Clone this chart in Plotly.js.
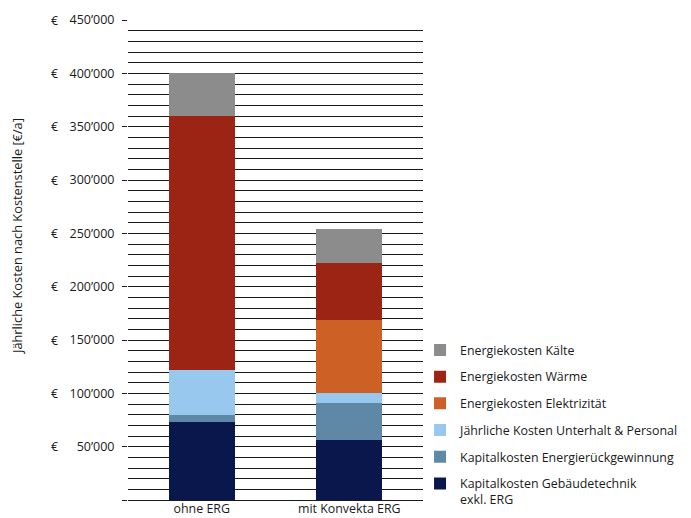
<!DOCTYPE html>
<html>
<head>
<meta charset="utf-8">
<script src="https://cdn.plot.ly/plotly-3.0.1.min.js"></script>
<style>
  html, body { margin: 0; padding: 0; background: #fff; }
  #chart { width: 691px; height: 518px; }
</style>
</head>
<body>
<div id="chart"></div>
<script>
// Annual costs per cost centre, in €/a
const categories = ['ohne ERG', 'mit Konvekta ERG'];

const kapitalGebaeude = [73500, 56500];   // Kapitalkosten Gebäudetechnik exkl. ERG
const kapitalERG      = [6500, 34500];    // Kapitalkosten Energierückgewinnung
const unterhalt       = [42000, 9500];    // Jährliche Kosten Unterhalt & Personal
const elektrizitaet   = [0, 68500];       // Energiekosten Elektrizität
const waerme          = [238000, 53000];  // Energiekosten Wärme
const kaelte          = [40000, 32000];   // Energiekosten Kälte

const seriesNames = [
  'Kapitalkosten Gebäudetechnik<br>exkl. ERG',
  'Kapitalkosten Energierückgewinnung',
  'Jährliche Kosten Unterhalt & Personal',
  'Energiekosten Elektrizität',
  'Energiekosten Wärme',
  'Energiekosten Kälte'
];
const seriesValues = [kapitalGebaeude, kapitalERG, unterhalt, elektrizitaet, waerme, kaelte];
const seriesColors = ['#0a174c', '#5f87a6', '#98c8ee', '#cd6024', '#9c2414', '#8c8c8c'];

const tickVals   = [0, 50000, 100000, 150000, 200000, 250000, 300000, 350000, 400000, 450000];
const tickLabels = ['', '50’000', '100’000', '150’000', '200’000', '250’000', '300’000', '350’000', '400’000', '450’000'];

const FONT = 'Open Sans, Noto Sans, sans-serif';
const TEXT = '#1a1a1a';

// Stack from the bottom up; the legend lists the top segment first
const traces = seriesValues.map((vals, i) => ({
  type: 'bar',
  name: seriesNames[i],
  x: categories,
  y: vals,
  marker: { color: seriesColors[i], line: { width: 0 } },
  width: 0.447,
  legendgroup: 'g' + i,
  legendrank: seriesValues.length - i,
  hoverinfo: 'x+y+name'
}));

// Euro signs sit in their own column left of the right-aligned amounts
const euroNotes = tickVals.filter((v, i) => tickLabels[i] !== '').map(v => ({
  xref: 'paper', yref: 'y',
  x: -0.2475, y: v,
  text: '€', showarrow: false,
  xanchor: 'center', yanchor: 'middle',
  font: { family: FONT, size: 12.5, color: TEXT }
}));

const layout = {
  width: 691,
  height: 518,
  margin: { l: 128, r: 268, t: 20, b: 18, autoexpand: false },
  paper_bgcolor: '#fff',
  plot_bgcolor: '#fff',
  font: { family: FONT, size: 12.5, color: TEXT },
  barmode: 'stack',
  showlegend: true,
  legend: {
    x: 0.99, xanchor: 'left',
    y: 0.343, yanchor: 'top',
    traceorder: 'grouped',
    tracegroupgap: 7.6,
    valign: 'top',
    font: { family: FONT, size: 12.4, color: TEXT },
    bgcolor: 'rgba(0,0,0,0)'
  },
  xaxis: {
    type: 'category',
    range: [-0.5, 1.5],
    showgrid: false,
    zeroline: false,
    showline: false,
    ticks: '',
    tickfont: { family: FONT, size: 12.4, color: TEXT },
    fixedrange: true
  },
  yaxis: {
    range: [0, 450000],
    tickmode: 'array',
    tickvals: tickVals,
    ticktext: tickLabels,
    ticks: 'outside',
    ticklen: 5,
    tickwidth: 1,
    tickcolor: '#1a1a1a',
    ticklabelstandoff: 5,
    tickfont: { family: FONT, size: 12.5, color: TEXT },
    showgrid: true,
    gridcolor: '#1a1a1a',
    gridwidth: 1,
    minor: { dtick: 10000, tick0: 0, showgrid: true, gridcolor: '#1a1a1a', gridwidth: 1, ticks: '' },
    zeroline: true,
    zerolinecolor: '#1a1a1a',
    zerolinewidth: 1,
    showline: false,
    fixedrange: true
  },
  annotations: euroNotes.concat([{
    xref: 'paper', yref: 'paper',
    x: -0.376, y: 0.548,
    text: 'Jährliche Kosten nach Kostenstelle [€/a]',
    textangle: -90,
    showarrow: false,
    xanchor: 'center', yanchor: 'middle',
    font: { family: FONT, size: 12.8, color: TEXT }
  }])
};

Plotly.newPlot('chart', traces, layout, { displayModeBar: false, staticPlot: true });
</script>
</body>
</html>
